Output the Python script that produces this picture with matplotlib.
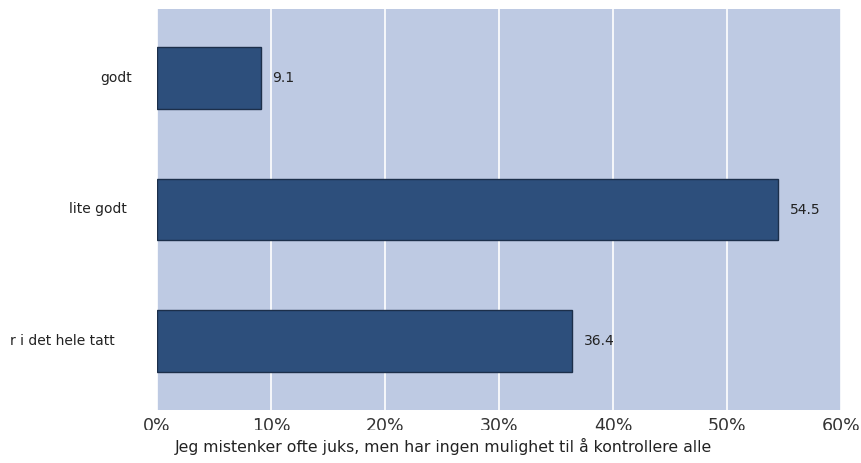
import matplotlib
matplotlib.use("Agg")
import matplotlib.pyplot as plt
from matplotlib.patches import Rectangle
import matplotlib.transforms as mtransforms

categories = ["godt", "lite godt", "r i det hele tatt"]
values = [9.1, 54.5, 36.4]
value_labels = ["9.1", "54.5", "36.4"]
xticks = [0, 10, 20, 30, 40, 50, 60]
xtick_labels = ["0%", "10%", "20%", "30%", "40%", "50%", "60%"]
xlabel = "Jeg mistenker ofte juks, men har ingen mulighet til å kontrollere alle"

W, H = 861, 463
fig = plt.figure(figsize=(W / 100, H / 100), dpi=100)
fig.patch.set_facecolor("white")

left, right, top, bottom = 157, 841, 9, 410
ax = fig.add_axes([left / W, 1 - bottom / H, (right - left) / W, (bottom - top) / H])
ax.set_facecolor("#BECAE3")

ypos = list(range(len(categories)))
ax.barh(ypos, values, height=0.47, color="#2D4F7C", edgecolor="#1C2F4A",
        linewidth=1.0, zorder=3)

ax.set_xlim(0, 60)
ax.set_ylim(2.525, -0.525)
ax.set_xticks(xticks)
ax.set_xticklabels(xtick_labels, fontsize=12.5, color="#333333")
ax.set_yticks([])
ax.tick_params(axis="x", length=0, pad=5)
ax.grid(axis="x", color="white", linewidth=1.2, zorder=1)
ax.set_axisbelow(True)
for s in ax.spines.values():
    s.set_visible(False)

# value labels
for y, v, lab in zip(ypos, values, value_labels):
    ax.annotate(lab, xy=(v, y), xytext=(8.5, 0), textcoords="offset points",
                ha="left", va="center", fontsize=10, color="#222222")

# category labels (right-aligned at differing offsets, partly cut at figure edge)
label_right_px = [132, 127, 115]
for y, cat, rx in zip(ypos, categories, label_right_px):
    ax.text(rx / W, y, cat, ha="right", va="center", fontsize=10, color="#222222",
            transform=mtransforms.blended_transform_factory(fig.transFigure, ax.transData))

# white band that cuts off the bottom of the tick labels
fig.patches.append(Rectangle((0, 0), 1, 1 - 429.5 / H, transform=fig.transFigure,
                             facecolor="white", edgecolor="none", zorder=5))
fig.text(443 / W, 1 - 446 / H, xlabel, ha="center", va="center", fontsize=11.3,
         color="#222222", zorder=6)

fig.savefig("out.png", dpi=100)
